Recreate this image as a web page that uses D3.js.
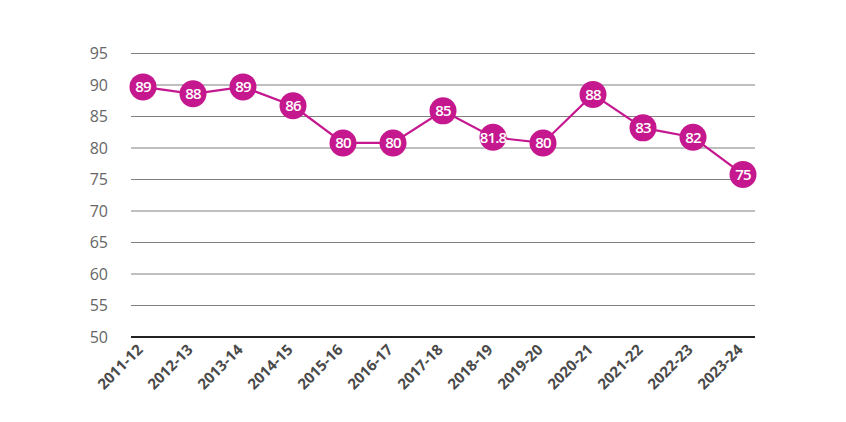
<!DOCTYPE html>
<html>
  <head>
    <meta charset="utf-8" />
    <title>Line chart</title>
    <script src="https://cdnjs.cloudflare.com/ajax/libs/d3/7.8.5/d3.min.js"></script>
    <style>
      body { margin: 0; background: #fff; }
      svg { display: block; font-family: "Open Sans", sans-serif; }
    </style>
  </head>
  <body>
    <div id="chart"></div>
    <script>
  var years = ["2011-12", "2012-13", "2013-14", "2014-15", "2015-16", "2016-17", "2017-18",
               "2018-19", "2019-20", "2020-21", "2021-22", "2022-23", "2023-24"];
  // values
  var values = [89.7, 88.6, 89.7, 86.7, 80.8, 80.8, 85.9, 81.7, 80.8, 88.5, 83.2, 81.7, 75.8];
  // labels printed in the markers
  var labels = ["89", "88", "89", "86", "80", "80", "85", "81.8", "80", "88", "83", "82", "75"];
  var yTicks = [50, 55, 60, 65, 70, 75, 80, 85, 90, 95];

  var width = 846, height = 422;
  var plotLeft = 131, plotRight = 755, plotTop = 53.5, plotBottom = 337;
  var magenta = "#c5178e";

  var svg = d3.select("#chart").append("svg")
    .attr("width", width)
    .attr("height", height);

  var x = d3.scalePoint().domain(years).range([plotLeft, plotRight]).padding(0.24);
  var y = d3.scaleLinear().domain([50, 95]).range([plotBottom, plotTop]);

  // grid lines
  svg.append("g").selectAll("line").data(yTicks).enter().append("line")
    .attr("x1", plotLeft).attr("x2", plotRight)
    .attr("y1", function(d){ return y(d); })
    .attr("y2", function(d){ return y(d); })
    .attr("stroke", function(d){ return d === 50 ? "#222" : "#808080"; })
    .attr("stroke-width", function(d){ return d === 50 ? 2 : 1.2; });

  // y labels
  svg.append("g").selectAll("text").data(yTicks).enter().append("text")
    .attr("x", 108)
    .attr("y", function(d){ return y(d); })
    .attr("dy", "0.35em")
    .attr("text-anchor", "end")
    .attr("font-size", 16)
    .attr("fill", "#666")
    .text(function(d){ return d; });

  // x labels
  svg.append("g").selectAll("text").data(years).enter().append("text")
    .attr("transform", function(d){ return "translate(" + (x(d) - 3) + ",347) rotate(-45)"; })
    .attr("text-anchor", "end")
    .attr("dy", "0.35em")
    .attr("font-size", 15)
    .attr("font-weight", 700)
    .attr("fill", "#4a4a4a")
    .text(function(d){ return d; });

  var line = d3.line()
    .x(function(d, i){ return x(years[i]); })
    .y(function(d){ return y(d); });

  svg.append("path")
    .datum(values)
    .attr("d", line)
    .attr("fill", "none")
    .attr("stroke", magenta)
    .attr("stroke-width", 2.2);

  var marks = svg.append("g").selectAll("g").data(values).enter().append("g")
    .attr("transform", function(d, i){ return "translate(" + x(years[i]) + "," + y(d) + ")"; });

  marks.append("circle")
    .attr("r", 13.5)
    .attr("fill", magenta);

  marks.append("text")
    .attr("text-anchor", "middle")
    .attr("dy", "0.36em")
    .attr("font-size", 15)
    .attr("font-weight", 600)
    .attr("letter-spacing", -0.8)
    .attr("fill", "#fff")
    .text(function(d, i){ return labels[i]; });
    </script>
  </body>
</html>
